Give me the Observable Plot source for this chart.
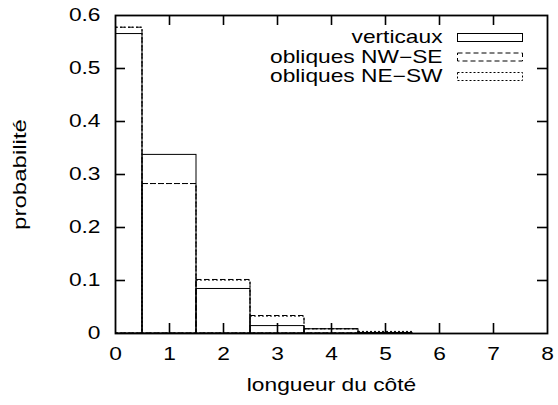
<!DOCTYPE html>
<html>
<head>
<meta charset="utf-8">
<script src="https://cdn.jsdelivr.net/npm/d3@7"></script>
<script src="https://cdn.jsdelivr.net/npm/@observablehq/plot@0.6"></script>
<style>
  html, body { margin: 0; padding: 0; background: white; }
</style>
</head>
<body>
<div id="chart"></div>
<script>
// Data
const lengths = [0, 1, 2, 3, 4, 5];
const verticaux = [0.565, 0.337, 0.084, 0.014, 0.008, 0.001];
const obliquesNWSE = [0.577, 0.282, 0.101, 0.033, 0.008, 0.001];
const obliquesNESW = [0.577, 0.282, 0.100, 0.032, 0.008, 0.003];
const seriesNames = ["verticaux", "obliques NW\u2212SE", "obliques NE\u2212SW"];
const xTicks = [0, 1, 2, 3, 4, 5, 6, 7, 8];
const yTicks = [0, 0.1, 0.2, 0.3, 0.4, 0.5, 0.6];
const xLabel = "longueur du côté";
const yLabel = "probabilité";

const dashes = [null, "5,3", "2,2"];
const seriesValues = [verticaux, obliquesNWSE, obliquesNESW];

const W = 558, H = 405;
const mL = 115, mR = 11, mT = 15, mB = 72;
const pw = W - mL - mR, ph = H - mT - mB;
const tick = 10;
const FS = 17.5;

const barMarks = seriesValues.map((vals, s) =>
  Plot.rectY(lengths.map((c, i) => ({c, v: vals[i]})), {
    x1: d => d.c - 0.5, x2: d => d.c + 0.5, y1: 0, y2: "v",
    fill: "none", stroke: "black", strokeWidth: 1,
    strokeDasharray: dashes[s], clip: true
  })
);

const legendMarks = seriesNames.flatMap((name, i) => [
  Plot.text([name], {
    frameAnchor: "top-right", dx: -105, dy: 22 + 19.5 * i,
    textAnchor: "end", lineAnchor: "middle", fontSize: FS, fill: "black"
  }),
  Plot.frame({
    insetLeft: 342, insetRight: 25,
    insetTop: 18 + 19.5 * i, insetBottom: ph - (18 + 19.5 * i) - 8,
    stroke: "black", strokeWidth: 1, strokeDasharray: dashes[i]
  })
]);

const chart = Plot.plot({
  width: W, height: H,
  marginLeft: mL, marginRight: mR, marginTop: mT, marginBottom: mB,
  style: {fontFamily: "'Liberation Sans', Arial, Helvetica, sans-serif", fontSize: FS + "px", background: "white", color: "black"},
  x: {domain: [0, 8], label: null},
  y: {domain: [0, 0.6], label: null},
  marks: [
    ...barMarks,
    Plot.tickY(yTicks.slice(1, -1), {y: d => d, insetRight: pw - tick, strokeWidth: 1.6, stroke: "black"}),
    Plot.tickY(yTicks.slice(1, -1), {y: d => d, insetLeft: pw - tick, strokeWidth: 1.6, stroke: "black"}),
    Plot.tickX(xTicks.slice(1, -1), {x: d => d, insetTop: ph - tick, strokeWidth: 1.6, stroke: "black"}),
    Plot.tickX(xTicks.slice(1, -1), {x: d => d, insetBottom: ph - tick, strokeWidth: 1.6, stroke: "black"}),
    Plot.axisX(xTicks, {tickSize: 0, tickPadding: 14, fontSize: FS, label: null, tickFormat: d => String(d)}),
    Plot.axisY(yTicks, {tickSize: 0, tickPadding: 15, fontSize: FS, label: null, tickFormat: d => d === 0 ? "0" : d.toFixed(1)}),
    Plot.text([yLabel], {frameAnchor: "left", rotate: -90, dx: -95, textAnchor: "middle", lineAnchor: "middle", fontSize: 18.5, fill: "black"}),
    Plot.text([xLabel], {frameAnchor: "bottom", dy: 52, textAnchor: "middle", lineAnchor: "middle", fontSize: FS, fill: "black"}),
    ...legendMarks,
    Plot.frame({stroke: "black", strokeWidth: 1.8})
  ]
});
// The reference's lettering is horizontally wide; stretch each text along its own direction.
d3.select(chart).selectAll("text").attr("transform", function() {
  return (this.getAttribute("transform") || "") + " scale(1.3,1)";
});
document.getElementById("chart").appendChild(chart);
</script>
</body>
</html>
